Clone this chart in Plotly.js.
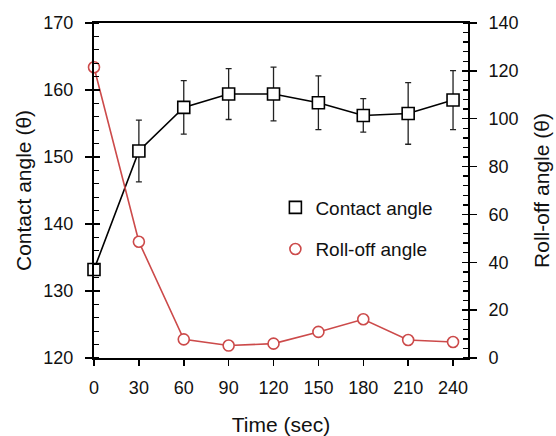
<!DOCTYPE html>
<html>
<head>
<meta charset="utf-8">
<script src="https://cdn.plot.ly/plotly-3.0.1.min.js"></script>
<style>html,body{margin:0;padding:0;background:#fff;}#chart{width:556px;height:436px;}</style>
</head>
<body>
<div id="chart"></div>
<script>
const timeSec = [0, 30, 60, 90, 120, 150, 180, 210, 240];
const contactAngle = [133.2, 150.9, 157.4, 159.4, 159.4, 158.1, 156.2, 156.5, 158.5];
const contactErr = [0.8, 4.6, 4.0, 3.8, 4.0, 4.0, 2.5, 4.6, 4.4];
const rollOffAngle = [121.5, 48.6, 7.8, 5.2, 6.0, 10.9, 16.2, 7.5, 6.7];
const xTicks = [0, 30, 60, 90, 120, 150, 180, 210, 240];

const RED = '#cc4a4a';
const FONT = 'Liberation Sans, Arial, sans-serif';

const traces = [
  {
    x: timeSec, y: contactAngle, type: 'scatter', mode: 'lines+markers',
    name: 'Contact angle', showlegend: false, cliponaxis: false,
    line: {color: '#000', width: 1.6},
    marker: {symbol: 'square', size: 12, color: '#fff', line: {color: '#000', width: 1.6}},
    error_y: {type: 'data', array: contactErr, visible: true, color: '#222', thickness: 1.3, width: 3},
    xaxis: 'x', yaxis: 'y'
  },
  {
    x: timeSec, y: rollOffAngle, type: 'scatter', mode: 'lines+markers',
    name: 'Roll-off angle', showlegend: false, cliponaxis: false,
    line: {color: RED, width: 1.6},
    marker: {symbol: 'circle', size: 11, color: '#fff', line: {color: RED, width: 1.6}},
    xaxis: 'x', yaxis: 'y2'
  },
  {
    x: [null], y: [null], type: 'scatter', mode: 'markers', name: 'Contact angle',
    legendgroup: 'a',
    marker: {symbol: 'square', size: 12, color: '#fff', line: {color: '#000', width: 1.6}},
    xaxis: 'x', yaxis: 'y'
  },
  {
    x: [null], y: [null], type: 'scatter', mode: 'markers', name: 'Roll-off angle',
    legendgroup: 'b',
    marker: {symbol: 'circle', size: 11, color: '#fff', line: {color: RED, width: 1.6}},
    xaxis: 'x', yaxis: 'y2'
  }
];

const tickFont = {family: FONT, size: 18, color: '#111'};
const titleFont = {family: FONT, size: 21, color: '#111'};

const layout = {
  width: 556, height: 436,
  margin: {l: 94, r: 88, t: 23, b: 78},
  paper_bgcolor: '#fff', plot_bgcolor: '#fff',
  showlegend: true,
  legend: {
    x: 0.485, y: 0.506, xanchor: 'left', yanchor: 'top',
    font: {family: FONT, size: 19, color: '#111'},
    bgcolor: 'rgba(0,0,0,0)', traceorder: 'grouped', tracegroupgap: 14
  },
  xaxis: {
    range: [0, 250], tickvals: xTicks, ticktext: xTicks.map(String),
    ticks: 'outside', ticklen: 6, tickwidth: 1.5, tickcolor: '#000',
    showline: true, linecolor: '#000', linewidth: 2, mirror: true,
    showgrid: false, zeroline: false, tickfont: tickFont, ticklabelstandoff: 6,
    title: {text: 'Time (sec)', font: titleFont, standoff: 22}
  },
  yaxis: {
    range: [120, 170], dtick: 10, tick0: 120,
    ticks: 'outside', ticklen: 7, tickwidth: 1.5, tickcolor: '#000',
    minor: {dtick: 2, ticks: 'inside', ticklen: 5, tickwidth: 1.3, tickcolor: '#000', showgrid: false},
    showline: true, linecolor: '#000', linewidth: 2,
    showgrid: false, zeroline: false, tickfont: tickFont, ticklabelstandoff: 8,
    title: {text: 'Contact angle (θ)', font: titleFont, standoff: 6}
  },
  yaxis3: {
    overlaying: 'y', side: 'left', anchor: 'x', range: [120, 170], dtick: 10, tick0: 120,
    ticks: 'inside', ticklen: 6, tickwidth: 1.5, tickcolor: '#000',
    showticklabels: false, showline: false, showgrid: false, zeroline: false
  },
  yaxis2: {
    overlaying: 'y', side: 'right', anchor: 'x', range: [0, 140], dtick: 20, tick0: 0,
    ticks: 'outside', ticklen: 7, tickwidth: 1.5, tickcolor: '#000',
    minor: {dtick: 4, ticks: 'inside', ticklen: 5, tickwidth: 1.3, tickcolor: '#000', showgrid: false},
    showline: true, linecolor: '#000', linewidth: 2,
    showgrid: false, zeroline: false, tickfont: tickFont, ticklabelstandoff: 8,
    title: {text: 'Roll-off angle (θ)', font: titleFont, standoff: 17}
  },
  yaxis4: {
    overlaying: 'y', side: 'right', anchor: 'x', range: [0, 140], dtick: 20, tick0: 0,
    ticks: 'inside', ticklen: 6, tickwidth: 1.5, tickcolor: '#000',
    showticklabels: false, showline: false, showgrid: false, zeroline: false
  }
};

// dummy traces so the overlay tick axes are drawn
traces.push({x: [null], y: [null], type: 'scatter', mode: 'markers', showlegend: false, hoverinfo: 'skip', xaxis: 'x', yaxis: 'y3'});
traces.push({x: [null], y: [null], type: 'scatter', mode: 'markers', showlegend: false, hoverinfo: 'skip', xaxis: 'x', yaxis: 'y4'});

Plotly.newPlot('chart', traces, layout, {staticPlot: true, displayModeBar: false});
</script>
</body>
</html>
